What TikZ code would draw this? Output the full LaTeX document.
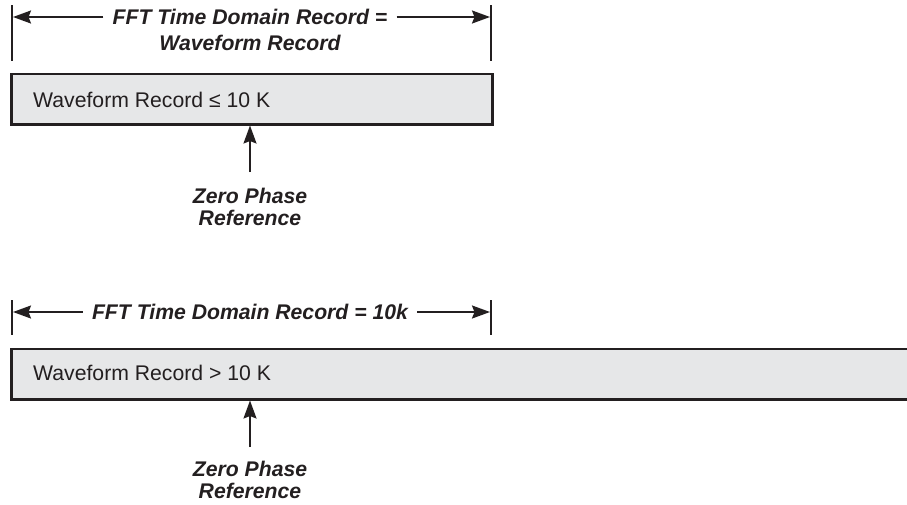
\documentclass[tikz,border=0pt]{standalone}
\usepackage{fontspec}
\setmainfont{Liberation Sans}
\usetikzlibrary{arrows.meta}
\definecolor{ink}{HTML}{231F20}
\definecolor{boxfill}{HTML}{E6E7E8}
\begin{document}
\begin{tikzpicture}[x=1pt,y=-1pt,
  tick/.style={draw=ink,line width=2pt},
  dimline/.style={draw=ink,line width=1.8pt,-{Stealth[length=18pt,width=13pt,inset=2.5pt]}},
  recbox/.style={draw=ink,line width=2.5pt,fill=boxfill,inner sep=0pt},
  lbl/.style={font=\fontsize{21.2}{22}\selectfont\bfseries\itshape,text=ink,inner sep=0pt},
  rec/.style={font=\fontsize{21.2}{22}\selectfont,text=ink,inner sep=0pt,anchor=west}]
\useasboundingbox (0,0) rectangle (907,504);
% ---- top diagram
\draw[tick] (12,5) -- (12,61);
\draw[tick] (491,5) -- (491,61);
\coordinate (l1) at (13,17);
\coordinate (r1) at (490,17);
\node[lbl] (t1) at (250,17) {FFT Time Domain Record =};
\node[lbl] (t2) at (250,43) {Waveform Record};
\draw[dimline,shorten <=9pt] (t1.west) -- (l1);
\draw[dimline,shorten <=9pt] (t1.east) -- (r1);
\node[recbox,minimum width=481pt,minimum height=50.5pt,anchor=north west] (b1) at (10,72.5) {};
\node[rec] (w1) at (33,100) {Waveform Record ≤ 10 K};
\coordinate (a1) at (250,172);
\draw[dimline] (a1) -- (a1 |- b1.south);
\node[lbl,align=center] (z1) at (250,207) {Zero Phase\\Reference};
% ---- bottom diagram
\draw[tick] (12,300) -- (12,335);
\draw[tick] (491,300) -- (491,335);
\coordinate (l2) at (13,312);
\coordinate (r2) at (490,312);
\node[lbl] (t3) at (250,312) {FFT Time Domain Record = 10k};
\draw[dimline,shorten <=9pt] (t3.west) -- (l2);
\draw[dimline,shorten <=9pt] (t3.east) -- (r2);
\node[recbox,minimum width=910pt,minimum height=50.5pt,anchor=north west] (b2) at (10,347.5) {};
\node[rec] (w2) at (33,373) {Waveform Record > 10 K};
\coordinate (a2) at (250,447);
\draw[dimline] (a2) -- (a2 |- b2.south);
\node[lbl,align=center] (z2) at (250,480) {Zero Phase\\Reference};
\end{tikzpicture}
\end{document}
